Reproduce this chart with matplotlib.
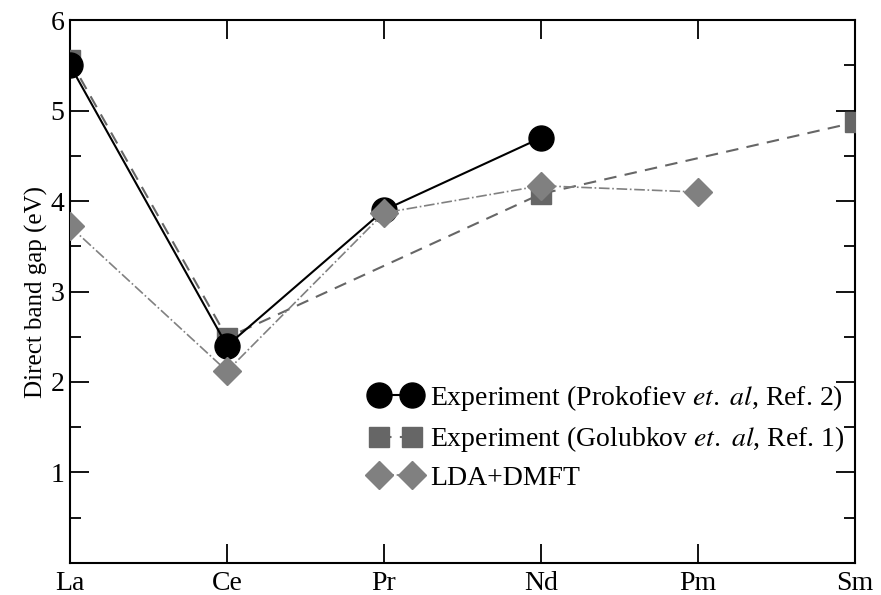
import matplotlib as mpl
import matplotlib.pyplot as plt
from matplotlib.ticker import MultipleLocator

mpl.rcParams['font.family'] = ['Liberation Serif', 'DejaVu Serif']
mpl.rcParams['mathtext.fontset'] = 'stix'

elements = ['La', 'Ce', 'Pr', 'Nd', 'Pm', 'Sm']

# Prokofiev et al. (Ref. 2)
prok_x = ['La', 'Ce', 'Pr', 'Nd']
prok_y = [5.50, 2.40, 3.90, 4.70]

# Golubkov et al. (Ref. 1)
golub_x = ['La', 'Ce', 'Nd', 'Sm']
golub_y = [5.56, 2.49, 4.08, 4.87]

# LDA+DMFT
dmft_x = ['La', 'Ce', 'Pr', 'Nd', 'Pm']
dmft_y = [3.72, 2.12, 3.87, 4.17, 4.10]

pos = {e: i for i, e in enumerate(elements)}

fig = plt.figure(figsize=(8.81, 5.95), dpi=100)
ax = fig.add_axes([0.0795, 0.054, 0.891, 0.912])

ax.plot([pos[e] for e in prok_x], prok_y, '-', color='black', lw=1.5,
        marker='o', ms=18, zorder=4,
        label='Experiment (Prokofiev $\\it{et.\\ al}$, Ref. 2)')
ax.plot([pos[e] for e in golub_x], golub_y, '--', color='#666666', lw=1.5,
        marker='s', ms=14, dashes=(6, 4), zorder=3,
        label='Experiment (Golubkov $\\it{et.\\ al}$, Ref. 1)')
ax.plot([pos[e] for e in dmft_x], dmft_y, '-.', color='#808080', lw=1.2,
        marker='D', ms=14, zorder=5, label='LDA+DMFT')

ax.set_xlim(0, 5)
ax.set_ylim(0, 6)
ax.set_xticks(range(len(elements)))
ax.set_xticklabels(elements)
ax.set_yticks([1, 2, 3, 4, 5, 6])
ax.yaxis.set_minor_locator(MultipleLocator(0.5))
ax.tick_params(which='both', direction='in', top=True, right=True,
               labelsize=20, width=1.3)
ax.tick_params(which='major', length=14)
ax.tick_params(which='minor', length=8)
ax.tick_params(axis='x', pad=6)
ax.tick_params(axis='y', pad=4)
for s in ax.spines.values():
    s.set_linewidth(1.5)
ax.set_ylabel('Direct band gap (eV)', fontsize=18, labelpad=2)

ax.legend(loc='lower right', bbox_to_anchor=(1.012, 0.097), frameon=False,
          fontsize=20, numpoints=2, handlelength=1.8, handletextpad=0.35,
          labelspacing=0.4, borderpad=0.2)

fig.savefig('out.png', dpi=100)
